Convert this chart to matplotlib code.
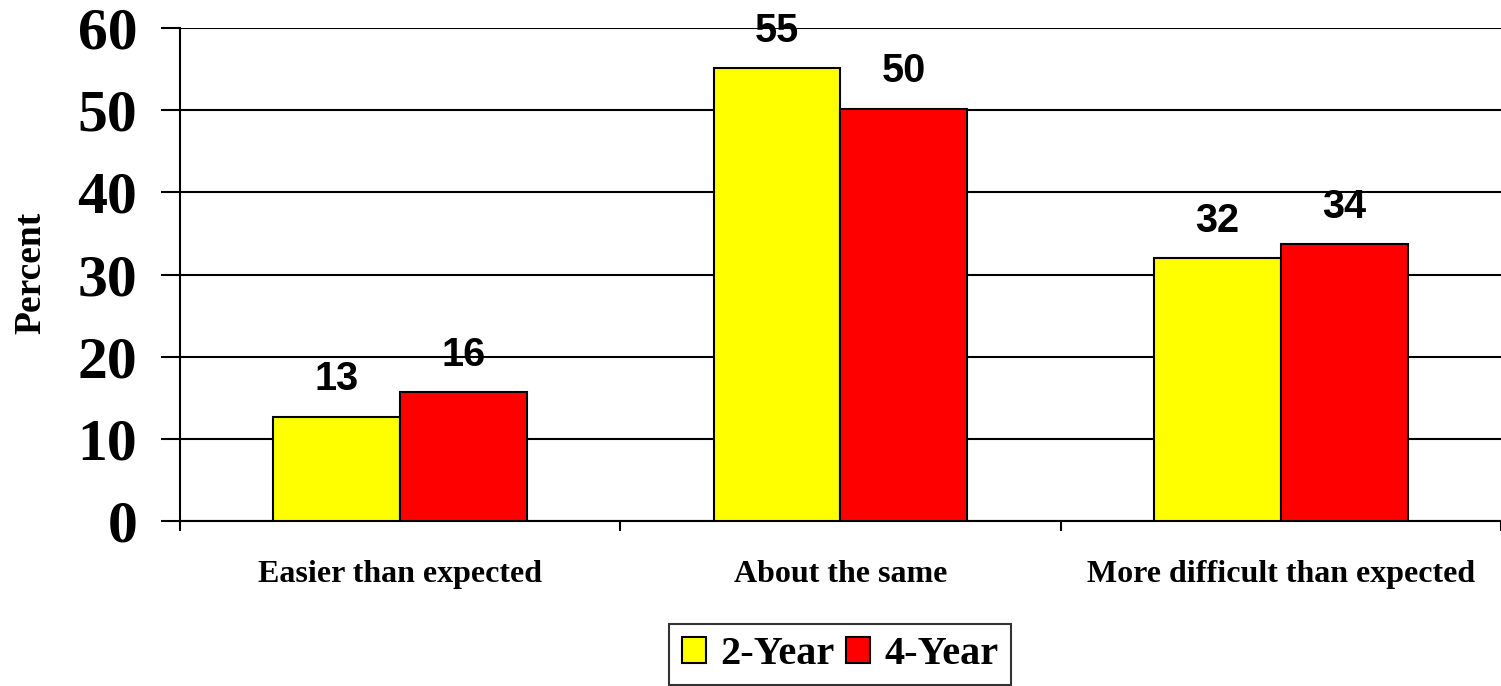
import matplotlib.pyplot as plt
import numpy as np

categories = ["Easier than expected", "About the same", "More difficult than expected"]
two_year = [12.7, 55.1, 32.0]
four_year = [15.7, 50.2, 33.7]
series_names = ["2-Year", "4-Year"]

serif = ["Liberation Serif", "DejaVu Serif"]
sans = ["Liberation Sans", "DejaVu Sans"]

fig = plt.figure(figsize=(15.01, 6.86), dpi=100)
ax = fig.add_axes([0.1199, 0.2405, 0.8801, 0.7185])

x = np.arange(len(categories))
w = 0.288
b1 = ax.bar(x - w / 2, two_year, w, color="#FFFF00", edgecolor="black",
            linewidth=1.5, label=series_names[0], zorder=3)
b2 = ax.bar(x + w / 2, four_year, w, color="#FF0000", edgecolor="black",
            linewidth=1.5, label=series_names[1], zorder=3)

# value labels, rounded like the original
for bars, vals in ((b1, two_year), (b2, four_year)):
    for rect, v in zip(bars, vals):
        ax.annotate(f"{round(v):d}", (rect.get_x() + rect.get_width() / 2, v),
                    xytext=(0, 27), textcoords="offset points",
                    ha="center", va="center", fontsize=28.5, fontweight="bold",
                    family=sans, zorder=2)

ax.set_xlim(-0.5, 2.5)
ax.set_ylim(0, 60)
ax.set_yticks(np.arange(0, 61, 10))
ax.yaxis.grid(True, color="black", linewidth=1.5, zorder=0)
ax.set_axisbelow(True)

for lbl in ax.get_yticklabels():
    lbl.set_fontfamily(serif)
    lbl.set_fontweight("bold")
    lbl.set_fontsize(43)
ax.tick_params(axis="y", direction="out", length=13.7, width=1.5, pad=17)

# category labels at centres, tick marks at boundaries
ax.set_xticks(x)
ax.set_xticklabels(categories, fontsize=23, fontweight="bold", family=serif)
ax.tick_params(axis="x", which="major", length=0, pad=28)
ax.set_xticks(np.arange(-0.5, 2.6, 1), minor=True)
ax.tick_params(axis="x", which="minor", direction="out", length=7.5, width=1.5)

for s in ("top", "right"):
    ax.spines[s].set_visible(False)
for s in ("left", "bottom"):
    ax.spines[s].set_linewidth(1.5)
    ax.spines[s].set_color("black")

fig.text(31 / 1501, 1 - 273 / 686, "Percent", rotation=90, ha="center", va="center",
         fontsize=27, fontweight="bold", family=serif)

leg = ax.legend(loc="upper center", bbox_to_anchor=(840 / 1501, 1 - 624 / 686),
                bbox_transform=fig.transFigure, borderaxespad=0, ncol=2, frameon=True,
                fancybox=False, edgecolor="black", handlelength=0.6,
                handleheight=0.6, handletextpad=0.35, columnspacing=0.3,
                borderpad=0.3, prop={"family": serif, "weight": "bold", "size": 29})
leg.get_frame().set_linewidth(1.5)

fig.savefig("out.png", dpi=100)
